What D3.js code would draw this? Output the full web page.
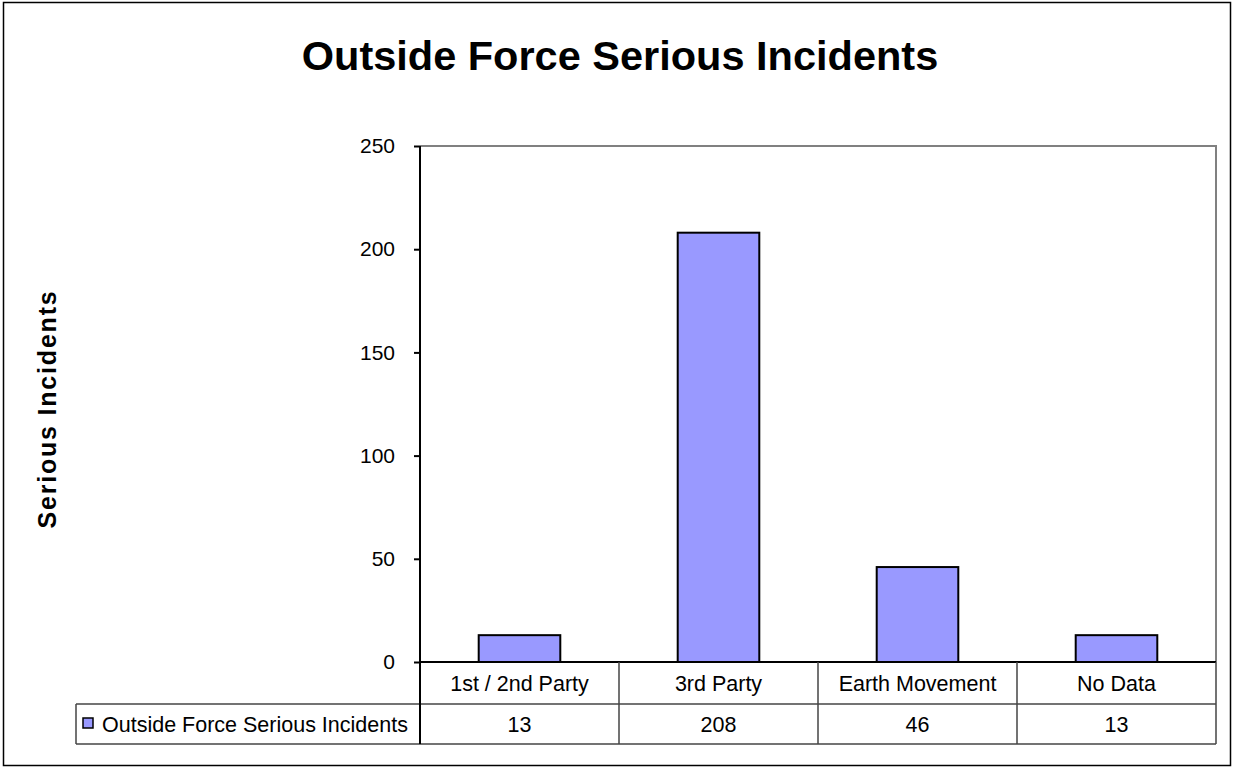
<!DOCTYPE html>
<html>
<head>
<meta charset="utf-8">
<script src="https://cdn.jsdelivr.net/npm/d3@7/dist/d3.min.js"></script>
<style>
  html, body { margin: 0; padding: 0; background: #fff; }
  svg { display: block; font-family: "Liberation Sans", Arial, sans-serif; }
</style>
</head>
<body>
<svg id="chart" width="1234" height="767"></svg>
<script>
// Incident counts by outside-force cause
const categories = ["1st / 2nd Party", "3rd Party", "Earth Movement", "No Data"];
const seriesName = "Outside Force Serious Incidents";
const seriesValues = [13, 208, 46, 13];
const yTicks = [0, 50, 100, 150, 200, 250];
const chartTitle = "Outside Force Serious Incidents";
const yTitle = "Serious Incidents";

const svg = d3.select("#chart");

// Outer frame
svg.append("rect")
  .attr("x", 3.5).attr("y", 2.5)
  .attr("width", 1227).attr("height", 763)
  .attr("fill", "#fff").attr("stroke", "#000").attr("stroke-width", 1.5);

// Title
svg.append("text")
  .attr("x", 620).attr("y", 70)
  .attr("text-anchor", "middle")
  .attr("font-size", 41.5).attr("font-weight", "bold")
  .text(chartTitle);

const plot = { left: 420, right: 1216, top: 146, bottom: 662 };

const x = d3.scaleBand()
  .domain(categories)
  .range([plot.left, plot.right])
  .paddingInner(0).paddingOuter(0);

const y = d3.scaleLinear()
  .domain([0, 250])
  .range([plot.bottom, plot.top]);

// Plot area border (top and right)
svg.append("path")
  .attr("d", `M${plot.left},${plot.top}H${plot.right}V${plot.bottom}`)
  .attr("fill", "none").attr("stroke", "#808080").attr("stroke-width", 2);

// Bars
const barW = x.bandwidth() * 0.41;
svg.append("g").selectAll("rect")
  .data(seriesValues)
  .join("rect")
  .attr("x", (d, i) => x(categories[i]) + (x.bandwidth() - barW) / 2)
  .attr("y", d => y(d))
  .attr("width", barW)
  .attr("height", d => y(0) - y(d))
  .attr("fill", "#9999FF")
  .attr("stroke", "#000").attr("stroke-width", 2);

// Y axis
const yAxis = d3.axisLeft(y)
  .tickValues(yTicks)
  .tickSize(6)
  .tickPadding(19)
  .tickFormat(d3.format("d"));
const gy = svg.append("g")
  .attr("transform", `translate(${plot.left},0)`)
  .call(yAxis);
gy.select(".domain").attr("stroke", "#000").attr("stroke-width", 2)
  .attr("d", `M0,${plot.top}V${plot.bottom}`);
gy.selectAll(".tick line").attr("stroke", "#000").attr("stroke-width", 2);
gy.selectAll(".tick text")
  .attr("font-size", 21).attr("fill", "#000")
  .attr("font-family", "Liberation Sans, Arial, sans-serif");

// Y axis title
svg.append("text")
  .attr("transform", `translate(56,${(plot.top + plot.bottom) / 2 + 5}) rotate(-90)`)
  .attr("text-anchor", "middle")
  .attr("font-size", 25).attr("font-weight", "bold")
  .attr("letter-spacing", 1.8)
  .text(yTitle);

// Data table
const table = { left: 76, row1Top: plot.bottom, row2Top: 704, bottom: 744 };
const tg = svg.append("g");
const lineColor = "#444";
const cellFont = 21.5;

// Horizontal rules
tg.append("line")
  .attr("x1", plot.left).attr("x2", plot.right)
  .attr("y1", plot.bottom).attr("y2", plot.bottom)
  .attr("stroke", "#000").attr("stroke-width", 2);
[table.row2Top, table.bottom].forEach(yy => {
  tg.append("line")
    .attr("x1", table.left).attr("x2", plot.right)
    .attr("y1", yy).attr("y2", yy)
    .attr("stroke", lineColor).attr("stroke-width", 1.5);
});
// Vertical rules
tg.append("line")
  .attr("x1", table.left).attr("x2", table.left)
  .attr("y1", table.row2Top).attr("y2", table.bottom)
  .attr("stroke", lineColor).attr("stroke-width", 1.5);
const edges = categories.map(c => x(c)).concat([plot.right]);
edges.forEach(xx => {
  tg.append("line")
    .attr("x1", xx).attr("x2", xx)
    .attr("y1", plot.bottom).attr("y2", table.bottom)
    .attr("stroke", xx === plot.left ? "#000" : lineColor)
    .attr("stroke-width", xx === plot.left ? 2 : 1.5);
});

// Category labels
tg.selectAll("text.cat")
  .data(categories)
  .join("text")
  .attr("class", "cat")
  .attr("x", d => x(d) + x.bandwidth() / 2)
  .attr("y", (table.row1Top + table.row2Top) / 2 + 7.5)
  .attr("text-anchor", "middle")
  .attr("font-size", cellFont)
  .text(d => d);

// Value row
tg.selectAll("text.val")
  .data(seriesValues)
  .join("text")
  .attr("class", "val")
  .attr("x", (d, i) => x(categories[i]) + x.bandwidth() / 2)
  .attr("y", (table.row2Top + table.bottom) / 2 + 7.5)
  .attr("text-anchor", "middle")
  .attr("font-size", cellFont)
  .text(d => d);

// Legend key and series name
tg.append("rect")
  .attr("x", 83).attr("y", 718)
  .attr("width", 10).attr("height", 10)
  .attr("fill", "#9999FF").attr("stroke", "#000").attr("stroke-width", 1.5);
tg.append("text")
  .attr("x", 102).attr("y", (table.row2Top + table.bottom) / 2 + 7.5)
  .attr("font-size", cellFont)
  .text(seriesName);
</script>
</body>
</html>
